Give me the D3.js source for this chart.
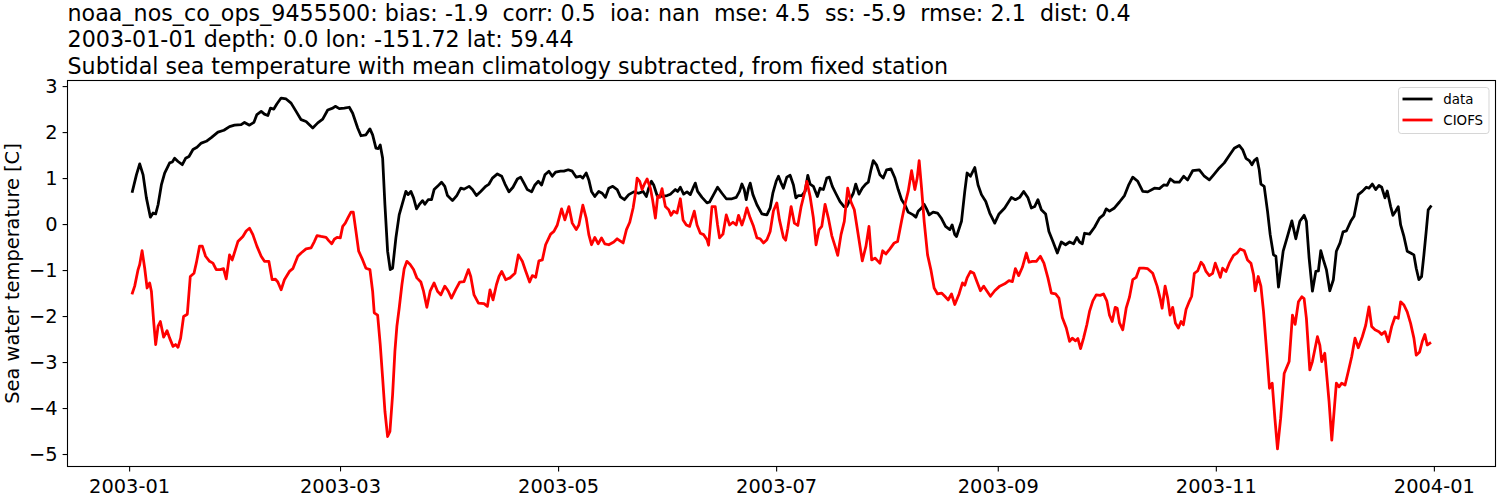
<!DOCTYPE html>
<html>
<head>
<meta charset="utf-8">
<script src="https://cdn.jsdelivr.net/npm/d3@7"></script>
<style>
  body { margin: 0; background: #ffffff; }
  svg { display: block; }
  text { font-family: "DejaVu Sans", sans-serif; fill: #000; }
</style>
</head>
<body>
<svg id="chart" width="1500" height="500"></svg>
<script>
// ---------------- data ----------------
const titleLines = [
  "noaa_nos_co_ops_9455500: bias: -1.9  corr: 0.5  ioa: nan  mse: 4.5  ss: -5.9  rmse: 2.1  dist: 0.4",
  "2003-01-01 depth: 0.0 lon: -151.72 lat: 59.44",
  "Subtidal sea temperature with mean climatology subtracted, from fixed station"
];
const yLabel = "Sea water temperature [C]";
const seriesNames = ["data", "CIOFS"];
const seriesColors = ["#000000", "#ff0000"];
const xTickLabels = ["2003-01", "2003-03", "2003-05", "2003-07", "2003-09", "2003-11", "2004-01"];
const yTickValues = [-5, -4, -3, -2, -1, 0, 1, 2, 3];
const startDate = "2003-01-01";

// observed ("data") series: days since 2003-01-01, temperature anomaly [C]
const dataDays = [
  0.92,2.04,2.96,3.91,4.83,5.95,6.70,7.43,8.10,9.02,9.94,11.34,12.09,12.73,13.68,14.88,15.80,16.75,17.87,18.99,20.19,21.58,22.98,24.85,26.52,28.09,29.48,31.35,32.28,33.67,34.90,35.74,36.94,37.86,38.81,39.53,40.48,41.32,42.52,43.92,45.31,46.71,
  48.11,49.50,51.37,52.77,54.16,55.56,56.96,57.68,58.80,60.20,61.59,62.54,63.94,64.86,66.25,67.37,68.12,69.05,69.69,70.25,70.92,71.56,72.31,73.04,73.71,74.63,75.55,76.50,77.42,78.06,78.82,79.57,80.41,81.14,82.08,82.73,83.65,84.60,85.32,86.27,87.39,88.31,89.06,90.46,91.66,
  92.78,93.70,95.10,96.04,97.16,98.36,99.76,100.68,101.63,103.02,104.23,105.15,106.26,107.38,108.61,109.53,110.45,111.40,112.60,113.52,114.47,115.39,116.31,117.43,118.38,119.30,120.70,121.62,122.85,123.96,125.08,126.28,126.92,127.87,128.60,129.35,130.28,131.39,132.34,133.26,134.18,135.30,136.53,137.45,
  138.57,139.77,141.16,142.56,143.79,144.71,145.35,146.11,146.75,147.70,149.09,150.49,151.41,152.81,153.45,154.20,155.12,156.07,156.99,157.75,158.39,159.03,160.26,161.66,162.38,163.50,164.62,165.84,167.05,168.64,169.84,170.76,171.43,172.07,172.63,173.27,173.75,174.50,175.62,177.01,178.41,179.33,180.08,181.01,181.65,182.40,183.04,183.99,184.91,
  185.84,186.51,187.23,188.18,189.10,189.86,190.50,191.42,192.54,193.29,194.21,195.16,195.89,196.72,197.67,198.87,199.99,200.74,201.67,202.59,203.26,204.18,205.10,206.05,206.78,207.53,208.17,209.12,210.04,210.96,211.91,213.11,214.23,215.15,216.10,217.02,217.94,219.34,220.09,220.74,221.68,222.41,223.08,223.81,224.92,226.15,227.27,228.39,229.59,230.23,230.98,
  231.46,232.85,233.77,234.42,235.37,236.57,237.49,238.44,239.64,240.75,242.15,243.35,244.94,246.81,247.93,249.13,250.25,251.45,252.40,253.32,254.24,255.19,256.39,257.31,258.43,259.66,260.77,261.97,263.09,264.21,265.13,265.88,266.64,267.28,268.67,270.07,271.47,272.58,273.34,274.26,275.65,277.05,
  278.45,279.56,280.76,282.16,283.56,284.95,286.82,288.22,289.42,290.37,291.29,292.41,293.80,295.00,296.12,297.52,299.39,300.78,302.18,303.38,304.97,306.37,307.76,309.16,310.55,311.48,312.43,313.35,314.10,314.74,315.50,316.14,316.61,317.53,318.46,319.21,320.13,320.80,321.53,
  322.84,324.04,325.27,326.38,327.50,328.70,329.34,330.10,331.02,331.97,332.69,333.36,334.09,334.93,335.88,336.88,337.72,338.75,339.59,340.51,341.74,342.66,343.86,344.98,346.10,346.85,347.77,348.72,349.64,350.40,351.32,351.96,352.91,353.55,354.30,355.03,355.70,356.62,357.54,358.49,359.41,360.06,360.81,361.56,362.21,362.85,363.41,364.08
];
const dataTemps = [
  0.71,1.07,1.31,1.07,0.57,0.15,0.24,0.22,0.42,0.85,1.11,1.33,1.35,1.43,1.36,1.29,1.43,1.47,1.62,1.67,1.76,1.80,1.88,2.00,2.04,2.12,2.15,2.16,2.21,2.15,2.21,2.38,2.45,2.39,2.36,2.52,2.50,2.61,2.74,2.72,2.63,2.45,
  2.27,2.23,2.09,2.20,2.28,2.48,2.52,2.56,2.51,2.52,2.54,2.41,2.09,1.92,1.94,2.07,1.94,1.65,1.64,1.72,1.43,0.42,-0.59,-0.99,-0.96,-0.30,0.20,0.46,0.71,0.64,0.71,0.57,0.33,0.42,0.51,0.43,0.53,0.53,0.75,0.82,0.91,0.82,0.62,0.51,0.62,
  0.78,0.76,0.82,0.75,0.62,0.71,0.82,0.87,1.00,1.09,1.04,0.87,0.70,0.80,0.98,1.02,0.89,0.75,0.70,0.85,0.93,0.85,1.07,1.15,1.04,1.13,1.15,1.15,1.18,1.15,1.02,1.04,1.00,1.11,0.96,0.71,0.60,0.71,0.67,0.58,0.78,0.82,0.75,0.59,
  0.53,0.64,0.70,0.67,0.71,0.60,0.78,0.93,0.85,0.62,0.60,0.62,0.65,0.75,0.71,0.80,0.65,0.70,0.64,0.78,0.89,0.71,0.58,0.46,0.48,0.64,0.80,0.67,0.55,0.55,0.58,0.71,0.87,0.75,0.53,0.78,0.89,0.64,0.42,0.22,0.20,0.35,0.67,0.93,1.04,0.89,0.78,1.02,1.06,
  0.85,0.57,0.62,0.62,0.71,1.06,0.87,0.82,0.60,0.78,0.75,1.00,1.02,0.82,0.67,0.49,0.38,0.38,0.53,0.67,0.87,0.65,0.78,0.87,0.91,1.18,1.38,1.28,1.07,1.00,1.18,1.20,1.00,0.75,0.53,0.42,0.26,0.20,0.15,0.28,0.35,0.43,0.33,0.20,0.26,0.24,0.12,-0.05,-0.12,-0.02,-0.23,
  -0.27,0.06,0.71,1.11,1.04,1.23,0.85,0.64,0.49,0.24,0.02,0.22,0.35,0.58,0.53,0.58,0.71,0.57,0.35,0.38,0.53,0.31,0.22,-0.16,-0.38,-0.63,-0.39,-0.45,-0.39,-0.43,-0.29,-0.39,-0.43,-0.20,-0.22,-0.07,0.13,0.20,0.33,0.28,0.35,0.48,
  0.62,0.84,1.02,0.93,0.71,0.70,0.78,0.77,0.85,0.84,0.98,0.91,0.91,1.04,0.96,1.16,1.18,1.04,0.96,1.07,1.22,1.33,1.49,1.65,1.71,1.62,1.43,1.38,1.29,1.38,1.43,1.18,0.87,0.82,0.28,-0.23,-0.67,-0.70,-1.37,
  -0.59,-0.27,0.07,-0.32,0.06,0.19,0.06,-0.74,-1.46,-1.03,-1.02,-0.58,-0.78,-0.99,-1.45,-1.21,-0.59,-0.41,-0.17,-0.15,0.06,0.17,0.64,0.71,0.80,0.78,0.87,0.75,0.84,0.80,0.57,0.72,0.38,0.19,0.28,0.38,-0.02,-0.27,-0.59,-0.63,-0.67,-0.96,-1.21,-1.14,-0.67,-0.16,0.31,0.38
];

// model ("CIOFS") series: days since 2003-01-01, temperature anomaly [C]
const modelDays = [
  0.92,1.56,2.51,2.96,3.63,4.36,5.03,5.75,6.23,6.87,7.43,8.10,8.74,9.66,10.61,11.34,12.28,13.01,13.68,14.41,15.24,16.28,17.11,18.15,18.79,19.71,20.47,21.39,22.50,23.45,24.37,25.49,26.41,27.17,28.09,28.84,30.43,31.83,32.75,33.67,34.62,35.74,36.94,37.86,39.09,40.01,40.93,41.60,42.52,43.44,44.84,45.79,
  47.18,48.11,49.50,50.90,51.82,52.57,53.69,55.09,55.84,56.68,57.40,58.16,59.08,59.75,60.47,61.31,62.07,62.71,63.46,64.22,65.33,66.25,67.37,68.12,68.57,69.52,70.25,70.92,71.56,72.31,72.96,73.71,74.35,74.91,75.55,76.31,76.95,77.70,78.62,79.57,80.49,81.61,82.36,83.29,84.21,85.32,86.27,87.19,88.31,89.23,90.18,
  91.38,92.50,93.70,94.93,95.57,96.49,97.72,99.28,100.23,100.96,101.80,102.75,103.47,104.23,105.34,106.54,107.94,108.89,110.00,110.93,112.04,112.80,113.72,114.64,115.59,116.51,117.91,118.83,119.78,120.98,121.90,123.02,123.96,125.08,125.81,126.92,127.87,128.60,129.35,130.28,131.22,132.15,133.07,134.18,135.58,136.53,137.45,
  138.20,139.13,140.05,140.99,141.64,142.11,142.84,143.51,144.15,144.91,145.83,146.47,147.22,147.86,148.42,149.09,150.01,150.94,151.61,152.33,153.28,154.20,154.96,155.88,156.80,158.11,158.87,159.79,160.71,161.66,162.10,163.05,163.97,164.62,165.17,166.12,167.05,167.97,168.92,169.84,170.48,171.43,172.07,172.82,173.75,174.67,175.62,176.54,177.46,178.41,179.33,180.25,181.20,181.93,183.04,
  183.66,184.27,185.19,186.11,187.06,187.99,188.91,189.58,190.50,191.42,192.17,193.01,193.77,194.69,195.61,196.56,197.48,198.23,199.15,200.07,201.02,201.95,202.87,203.82,205.10,206.13,206.97,207.72,208.65,209.40,210.04,210.80,211.72,212.83,214.04,214.98,216.10,217.02,217.94,218.89,219.81,220.46,221.01,221.68,222.41,223.36,224.28,225.20,226.15,227.27,228.19,229.11,230.06,230.98,
  232.18,233.13,233.77,234.42,235.37,236.29,237.21,238.16,239.08,240.00,240.95,242.15,243.55,244.94,246.14,247.09,247.93,248.85,249.88,251.00,251.73,252.68,253.79,254.91,255.91,257.03,257.98,259.18,260.10,261.05,262.17,263.09,263.84,264.77,265.41,266.16,267.00,267.92,268.67,269.60,270.54,271.66,272.58,273.50,274.26,275.01,275.85,276.41,277.05,277.97,
  278.92,279.84,280.76,281.71,282.63,283.83,284.95,286.35,287.58,288.41,288.97,289.81,290.54,291.21,291.93,292.69,293.52,294.28,294.92,295.67,296.59,297.24,297.99,298.91,299.86,300.59,301.26,302.18,303.10,303.85,304.50,305.25,305.89,306.84,307.76,308.96,309.91,310.83,311.95,312.87,313.82,314.55,315.02,315.86,316.61,317.34,318.29,319.01,319.77,320.52,321.25,
  322.14,323.12,324.51,325.44,326.19,327.11,328.06,328.70,329.34,330.29,331.02,332.42,333.09,333.64,334.48,335.68,336.44,337.08,337.72,338.47,339.22,340.15,341.07,342.02,342.94,343.86,344.98,345.93,346.85,347.60,348.53,349.64,350.40,351.32,352.24,353.19,354.11,355.03,355.70,356.62,357.54,358.49,359.41,360.06,361.01,361.73,362.48,363.13,363.88
];
const modelTemps = [
  -1.50,-1.35,-0.99,-0.88,-0.58,-0.96,-1.39,-1.28,-1.46,-2.12,-2.62,-2.22,-2.12,-2.46,-2.32,-2.48,-2.66,-2.62,-2.68,-2.48,-2.01,-1.96,-1.14,-1.07,-0.85,-0.48,-0.48,-0.70,-0.81,-0.85,-0.99,-0.99,-0.97,-1.19,-0.67,-0.78,-0.38,-0.27,-0.15,-0.09,-0.23,-0.48,-0.70,-0.81,-0.81,-1.21,-1.20,-1.26,-1.43,-1.21,-1.03,-0.97,
  -0.70,-0.63,-0.54,-0.52,-0.38,-0.25,-0.27,-0.29,-0.36,-0.43,-0.33,-0.29,-0.30,-0.05,0.02,0.15,0.26,0.26,-0.16,-0.59,-0.78,-0.96,-0.99,-1.46,-1.93,-1.98,-2.62,-3.35,-4.07,-4.62,-4.51,-3.71,-2.77,-2.22,-1.83,-1.32,-0.97,-0.81,-0.88,-0.99,-1.17,-1.26,-1.46,-1.81,-1.46,-1.28,-1.46,-1.54,-1.35,-1.45,-1.61,
  -1.42,-1.26,-1.25,-0.99,-1.14,-1.54,-1.72,-1.73,-1.79,-1.43,-1.65,-1.32,-1.14,-1.03,-1.21,-1.17,-1.07,-0.67,-0.81,-1.02,-1.26,-1.12,-1.16,-0.80,-0.78,-0.45,-0.22,-0.16,-0.02,0.33,0.09,0.38,0.02,-0.12,-0.02,0.41,0.13,-0.23,-0.45,-0.29,-0.43,-0.30,-0.43,-0.45,-0.39,-0.32,-0.37,
  -0.41,-0.12,0.04,0.35,0.67,1.00,0.93,0.75,0.87,0.98,0.78,0.51,0.13,0.60,0.58,0.77,0.38,0.31,0.19,0.28,0.24,0.55,0.09,-0.02,-0.05,0.28,-0.02,-0.20,-0.23,-0.34,-0.46,0.38,0.38,-0.02,-0.30,-0.22,0.20,-0.02,0.04,-0.02,0.19,-0.02,0.13,0.35,0.13,-0.05,-0.30,-0.32,-0.41,-0.34,-0.16,0.29,0.46,0.09,-0.29,
  -0.35,-0.09,0.38,0.02,-0.03,0.38,0.67,0.93,0.60,0.13,-0.45,-0.12,-0.05,0.43,0.13,-0.25,-0.48,-0.68,-0.23,0.06,0.78,0.48,0.31,-0.16,-0.80,-0.48,-0.05,-0.78,-0.74,-0.80,-0.85,-0.58,-0.65,-0.54,-0.41,-0.38,0.07,0.42,0.71,1.16,0.75,1.00,1.38,0.78,0.06,-0.67,-0.99,-1.39,-1.52,-1.50,-1.57,-1.65,-1.52,-1.75,
  -1.52,-1.28,-1.33,-1.17,-1.03,-1.07,-1.26,-1.45,-1.35,-1.46,-1.57,-1.45,-1.35,-1.30,-1.23,-1.25,-0.97,-1.12,-0.94,-0.63,-0.83,-0.81,-0.81,-0.70,-0.85,-1.17,-1.50,-1.52,-1.61,-2.03,-2.26,-2.55,-2.48,-2.54,-2.49,-2.71,-2.48,-2.19,-1.90,-1.67,-1.54,-1.55,-1.52,-1.67,-1.98,-2.12,-1.81,-1.83,-2.15,-2.30,
  -1.83,-1.59,-1.21,-1.16,-0.96,-0.96,-0.97,-1.07,-1.35,-1.61,-1.83,-1.35,-1.61,-1.98,-1.81,-2.15,-2.26,-2.12,-2.19,-1.86,-1.68,-1.57,-1.07,-1.02,-0.83,-0.90,-1.03,-1.12,-1.07,-0.85,-0.99,-1.16,-0.96,-1.03,-0.85,-0.68,-0.63,-0.54,-0.58,-0.78,-0.85,-1.10,-1.45,-1.14,-1.35,-1.90,-2.84,-3.57,-3.46,-4.22,-4.89,
  -4.22,-3.25,-2.99,-1.98,-2.18,-1.69,-1.58,-1.62,-2.05,-3.17,-2.99,-2.45,-2.63,-2.99,-2.81,-3.86,-4.70,-4.08,-3.46,-3.54,-3.46,-3.50,-3.20,-2.88,-2.48,-2.69,-2.45,-2.20,-1.80,-2.23,-2.30,-2.34,-2.40,-2.34,-2.56,-2.23,-2.02,-2.05,-1.69,-1.76,-1.91,-2.16,-2.48,-2.85,-2.78,-2.56,-2.40,-2.63,-2.59
];

// ---------------- drawing ----------------
const svg = d3.select("#chart");
const plot = { left: 67.5, right: 1495.5, top: 80.5, bottom: 466.5 };

const t0 = d3.utcParse("%Y-%m-%d")(startDate).getTime();
const toDate = d => new Date(t0 + d * 864e5);
function buildSeries(days, vals) {
  const n = Math.min(days.length, vals.length);
  const out = [];
  for (let i = 0; i < n; i++) out.push({ t: toDate(days[i]), v: vals[i] });
  return out;
}
const series = [
  { name: seriesNames[0], color: seriesColors[0], pts: buildSeries(dataDays, dataTemps) },
  { name: seriesNames[1], color: seriesColors[1], pts: buildSeries(modelDays, modelTemps) }
];

const allPts = series.flatMap(s => s.pts);
const tExt = d3.extent(allPts, d => d.t.getTime());
const vExt = d3.extent(allPts, d => d.v);
const tPad = (tExt[1] - tExt[0]) * 0.05;
const vPad = (vExt[1] - vExt[0]) * 0.05;

const x = d3.scaleUtc()
  .domain([new Date(tExt[0] - tPad), new Date(tExt[1] + tPad)])
  .range([plot.left, plot.right]);
const y = d3.scaleLinear()
  .domain([vExt[0] - vPad, vExt[1] + vPad])
  .range([plot.bottom, plot.top]);

// lines
const line = d3.line().x(d => x(d.t)).y(d => y(d.v));
series.forEach(s => {
  svg.append("path")
    .datum(s.pts)
    .attr("d", line)
    .attr("fill", "none")
    .attr("stroke", s.color)
    .attr("stroke-width", 2.78)
    .attr("stroke-linejoin", "round")
    .attr("stroke-linecap", "square");
});

// frame
svg.append("rect")
  .attr("x", plot.left).attr("y", plot.top)
  .attr("width", plot.right - plot.left).attr("height", plot.bottom - plot.top)
  .attr("fill", "none").attr("stroke", "#000").attr("stroke-width", 1.1);

// x axis
const parseMonth = d3.utcParse("%Y-%m");
const gx = svg.append("g")
  .attr("transform", `translate(0,${plot.bottom})`)
  .call(d3.axisBottom(x)
    .tickValues(xTickLabels.map(parseMonth))
    .tickFormat(d3.utcFormat("%Y-%m"))
    .tickSize(4.9).tickSizeOuter(0).tickPadding(4.9));
gx.select(".domain").remove();
gx.selectAll(".tick line").attr("stroke", "#000").attr("stroke-width", 1.1);
gx.selectAll(".tick text")
  .attr("fill", "#000")
  .attr("font-family", "DejaVu Sans")
  .attr("font-size", "19.4px")
  .attr("dy", null)
  .attr("y", 26.5);

// y axis
const gy = svg.append("g")
  .attr("transform", `translate(${plot.left},0)`)
  .call(d3.axisLeft(y)
    .tickValues(yTickValues)
    .tickFormat(d => d < 0 ? "\u2212" + Math.abs(d) : String(d))
    .tickSize(4.9).tickSizeOuter(0).tickPadding(4.9));
gy.select(".domain").remove();
gy.selectAll(".tick line").attr("stroke", "#000").attr("stroke-width", 1.1);
gy.selectAll(".tick text")
  .attr("fill", "#000")
  .attr("font-family", "DejaVu Sans")
  .attr("font-size", "19.4px");

// y label
svg.append("text")
  .attr("transform", `translate(18.5,${(plot.top + plot.bottom) / 2}) rotate(-90)`)
  .attr("text-anchor", "middle")
  .attr("font-size", "19.4px")
  .text(yLabel);

// title
const titleBase = [20.6, 47.2, 73.8];
const titleWidths = [1063, 506, null];
titleLines.forEach((t, i) => {
  const tx = svg.append("text")
    .attr("x", plot.left)
    .attr("y", titleBase[i])
    .attr("font-size", "22.2px")
    .style("white-space", "pre")
    .text(t);
  if (titleWidths[i]) tx.attr("textLength", titleWidths[i]).attr("lengthAdjust", "spacing");
});

// legend
const lg = svg.append("g");
lg.append("rect")
  .attr("x", 1398.5).attr("y", 87.5)
  .attr("width", 90.5).attr("height", 46)
  .attr("rx", 2.8)
  .attr("fill", "#fff").attr("fill-opacity", 0.8)
  .attr("stroke", "#cccccc").attr("stroke-opacity", 0.8).attr("stroke-width", 1);
series.forEach((s, i) => {
  const yy = 99 + i * 21;
  lg.append("line")
    .attr("x1", 1402.5).attr("x2", 1432.5)
    .attr("y1", yy).attr("y2", yy)
    .attr("stroke", s.color).attr("stroke-width", 2.78);
  lg.append("text")
    .attr("x", 1443.3).attr("y", yy + 4.8)
    .attr("font-size", "13.4px")
    .text(s.name);
});
</script>
</body>
</html>
